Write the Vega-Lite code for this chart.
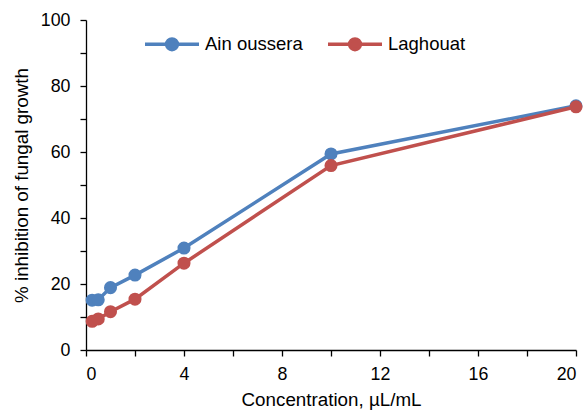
{
  "$schema": "https://vega.github.io/schema/vega-lite/v6.json",
  "width": 490,
  "height": 330,
  "autosize": "none",
  "padding": {"left": 86, "top": 20, "right": 12, "bottom": 60},
  "background": "white",
  "config": {
    "view": {"stroke": null},
    "font": "Liberation Sans",
    "axis": {
      "grid": false,
      "domainColor": "#000000",
      "domainWidth": 1.3,
      "tickColor": "#000000",
      "tickWidth": 1.3,
      "tickSize": 6,
      "labelFont": "Liberation Sans",
      "labelFontSize": 17.8,
      "labelColor": "#000000",
      "titleFont": "Liberation Sans",
      "titleFontSize": 18.8,
      "titleFontWeight": "normal",
      "titleColor": "#000000"
    }
  },
  "data": {
    "values": [
      {"conc": 0.25, "site": "Ain oussera", "inhib": 15.1},
      {"conc": 0.5, "site": "Ain oussera", "inhib": 15.2},
      {"conc": 1, "site": "Ain oussera", "inhib": 18.9},
      {"conc": 2, "site": "Ain oussera", "inhib": 22.7},
      {"conc": 4, "site": "Ain oussera", "inhib": 30.9},
      {"conc": 10, "site": "Ain oussera", "inhib": 59.4},
      {"conc": 20, "site": "Ain oussera", "inhib": 74.0},
      {"conc": 0.25, "site": "Laghouat", "inhib": 8.7},
      {"conc": 0.5, "site": "Laghouat", "inhib": 9.4},
      {"conc": 1, "site": "Laghouat", "inhib": 11.6},
      {"conc": 2, "site": "Laghouat", "inhib": 15.4},
      {"conc": 4, "site": "Laghouat", "inhib": 26.3},
      {"conc": 10, "site": "Laghouat", "inhib": 55.9},
      {"conc": 20, "site": "Laghouat", "inhib": 73.7}
    ]
  },
  "encoding": {
    "x": {
      "field": "conc",
      "type": "quantitative",
      "scale": {"domain": [0, 20], "nice": false},
      "axis": {
        "title": "Concentration, µL/mL",
        "values": [0, 2, 4, 6, 8, 10, 12, 14, 16, 18, 20],
        "labelExpr": "datum.value % 4 === 0 ? datum.label : ''",
        "labelPadding": 9,
        "titlePadding": 8
      }
    },
    "y": {
      "field": "inhib",
      "type": "quantitative",
      "scale": {"domain": [0, 100], "nice": false},
      "axis": {
        "title": "%  inhibition of fungal growth",
        "values": [0, 10, 20, 30, 40, 50, 60, 70, 80, 90, 100],
        "labelExpr": "datum.value % 20 === 0 ? datum.label : ''",
        "labelPadding": 10,
        "titlePadding": 9
      }
    },
    "color": {
      "field": "site",
      "type": "nominal",
      "scale": {"domain": ["Ain oussera", "Laghouat"], "range": ["#4F81BD", "#C0504D"]},
      "legend": {
        "title": null,
        "orient": "none",
        "legendX": 57,
        "legendY": -5,
        "direction": "horizontal",
        "symbolType": "M-1,0L1,0M0.2,0A0.2,0.2,0,1,1,-0.2,0A0.2,0.2,0,1,1,0.2,0Z",
        "symbolSize": 2916,
        "symbolStrokeWidth": 3.5,
        "symbolOpacity": 1,
        "labelFont": "Liberation Sans",
        "labelFontSize": 18.5,
        "labelColor": "#000000",
        "labelOffset": 4,
        "columnPadding": 18,
        "encode": {
          "symbols": {
            "update": {
              "fill": {"scale": "color", "field": "value"},
              "stroke": {"scale": "color", "field": "value"}
            }
          }
        }
      }
    }
  },
  "layer": [
    {
      "mark": {"type": "line", "strokeWidth": 3.5}
    },
    {
      "mark": {"type": "point", "filled": true, "size": 170, "opacity": 1}
    }
  ]
}
